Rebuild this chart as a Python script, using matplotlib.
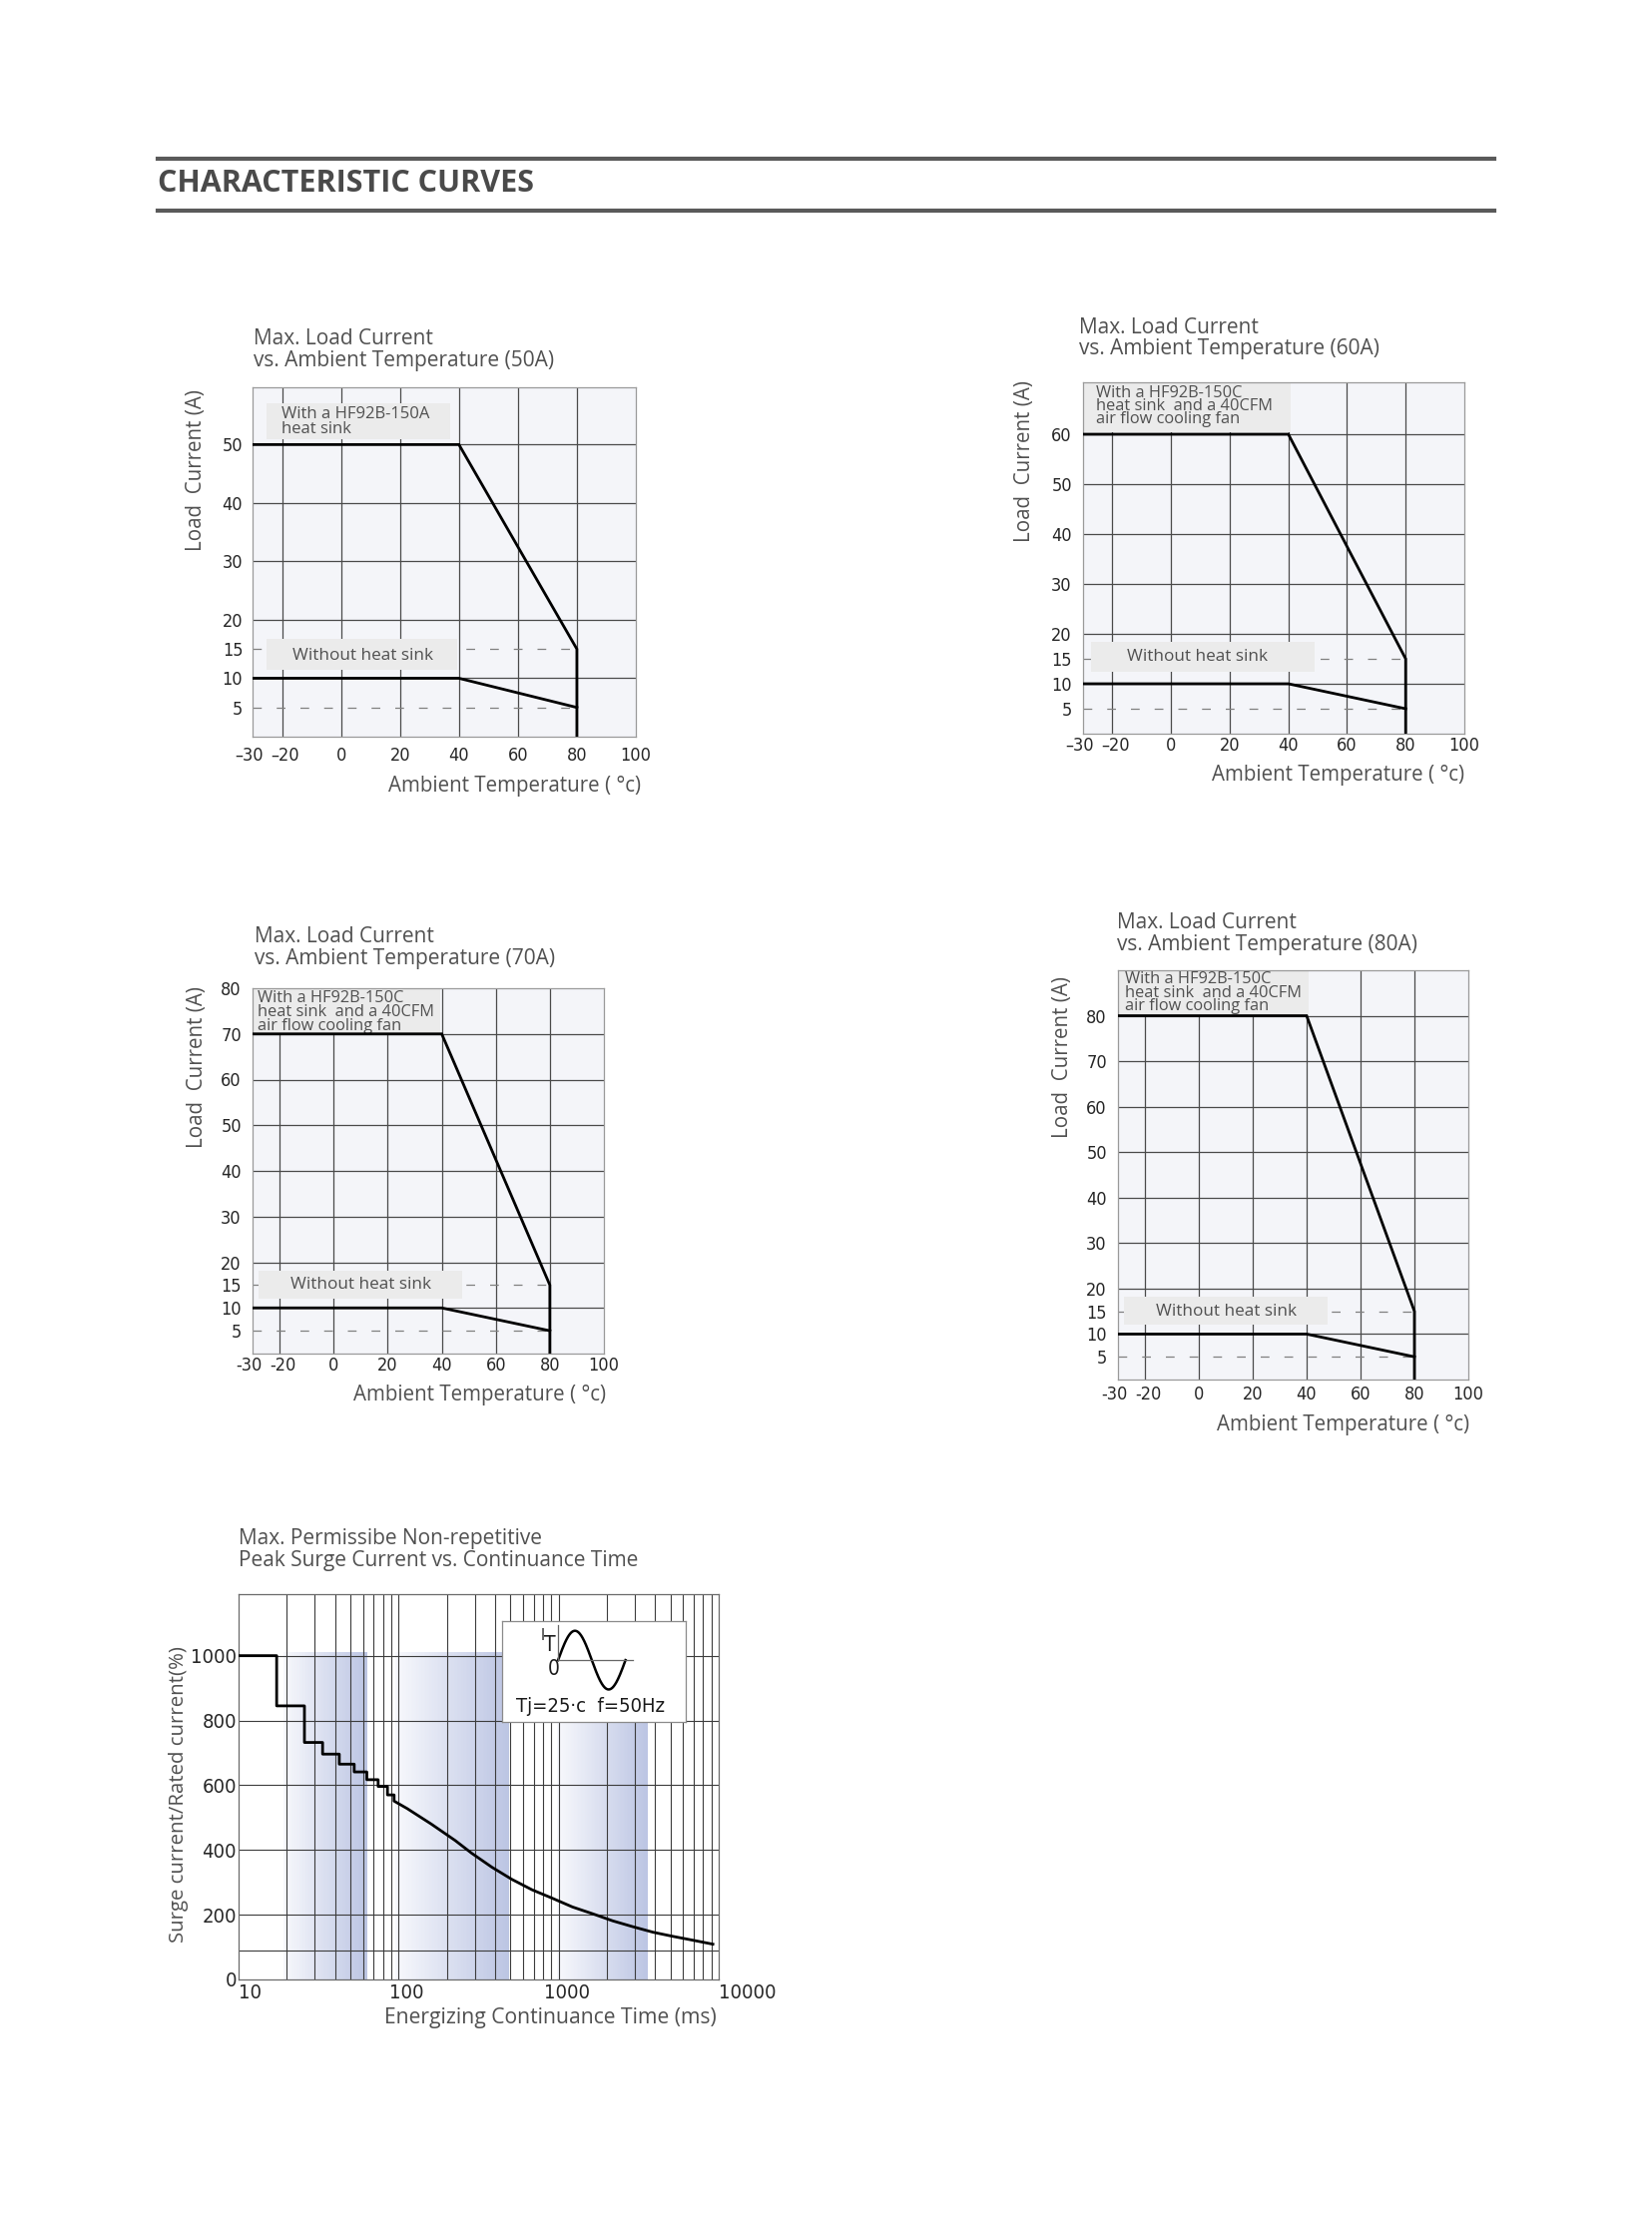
import os
import numpy as np
import matplotlib
matplotlib.use("Agg")
import matplotlib.pyplot as plt
from matplotlib import font_manager
from matplotlib.font_manager import FontProperties
from matplotlib.lines import Line2D
from matplotlib.patches import Rectangle
from matplotlib.colors import LinearSegmentedColormap
from matplotlib.ticker import NullLocator
from matplotlib.transforms import ScaledTranslation

W, H = 1656, 2244

# --- derating curves (ambient temperature vs. load current) ---
temp_pts = [-30, 40, 80, 80]
load_with_50a = [50, 50, 15, 0]
load_with_60a = [60, 60, 15, 0]
load_with_70a = [70, 70, 15, 0]
load_with_80a = [80, 80, 15, 0]
temp_pts_bare = [-30, 40, 80]
load_without = [10, 10, 5]
dashed_levels = [5, 15]
temp_ticks = [-30, -20, 0, 20, 40, 60, 80, 100]
temp_grid = [-20, 0, 20, 40, 60, 80]

# --- surge current vs. continuance time ---
step_time = [10, 17.3, 25.8, 33.5, 42.6, 52.8, 63.3, 74.5, 85.2, 93.7]
step_surge = [1000, 845, 732, 696, 665, 641, 617, 596, 570, 551]
curve_time = [93.7, 113, 160, 226, 286, 382, 511, 682, 912, 1219, 1630, 2178,
              2906, 3882, 5190, 6935, 9200]
curve_surge = [551, 528, 480, 429, 390, 347, 309, 277, 251, 224, 203, 181,
               163, 146, 133, 121, 109]
band_start = [19, 95, 980]
band_end = [64, 490, 3600]
band_top = 1010
surge_vgrid = [20, 30, 40, 50, 60, 70, 80, 90, 100, 200, 300, 400, 500, 600,
               700, 800, 900, 1000, 2000, 3000, 4000, 5000, 6000, 7000, 8000, 9000]
surge_hgrid = [90, 200, 400, 600, 800, 1000]
surge_yticks = [0, 200, 400, 600, 800, 1000]
time_ticks = [10, 100, 1000, 10000]

SANS = ["Open Sans", "DejaVu Sans"]
GRID = "#4a4a4a"
TXT = "#505050"

plt.rcParams["font.family"] = SANS


def narrow_font():
    # the chart numbers are set in a condensed face; take whichever is installed
    wanted = ["DejaVuSansCondensed.", "LiberationSansNarrow-Regular",
              "NotoSans-Condensed.", "RobotoCondensed-Regular"]
    files = [f.fname for f in font_manager.fontManager.ttflist]
    for w in wanted:
        for f in files:
            if w in os.path.basename(f):
                return FontProperties(fname=f)
    return FontProperties(family="Roboto")


NARROW = narrow_font()


def rect(l, t, r, b):
    return [l / W, 1 - b / H, (r - l) / W, (b - t) / H]


def fx(x):
    return x / W


def fy(y):
    return 1 - y / H


def narrow_labels(labels, size):
    for lbl in labels:
        lbl.set_fontproperties(NARROW)
        lbl.set_fontsize(size)


def shift_labels(labels, dxs):
    for lbl, dx in zip(labels, dxs):
        if dx:
            lbl.set_transform(lbl.get_transform()
                              + ScaledTranslation(dx / 72, 0, fig.dpi_scale_trans))


fig = plt.figure(figsize=(W / 100, H / 100), dpi=100)

# page header
for yl in (159, 211):
    fig.add_artist(Line2D([fx(158), fx(1497)], [fy(yl), fy(yl)], lw=3.0, color="#5a5a5a"))
fig.text(fx(158), fy(184), "CHARACTERISTIC CURVES", fontsize=22, weight="bold",
         color="#4a4a4a", ha="left", va="center")

charts = [
    dict(rect=(253, 388, 637, 738), title=(254, 339.5, 361), rating="50A",
         load=load_with_50a, ytop=59.8, yticks=[5, 10, 15, 20, 30, 40, 50],
         hgrid=[10, 20, 30, 40, 50],
         top_box=(-25.3, 50.9, 36.9, 57.1), top_lines=["With a HF92B-150A", "heat sink"],
         top_y=[55.2, 52.7], top_x=-20.2, top_fs=12,
         bare_box=(-25.3, 11.5, 39.5, 16.8), bare_xy=(7.3, 13.9),
         ylabel=(197, 471), xlabel=(642, 788), minus="\u2013", xpad=7, ypad=7),
    dict(rect=(1085, 383, 1467, 735), title=(1081, 328, 349.5), rating="60A",
         load=load_with_60a, ytop=70.4, yticks=[5, 10, 15, 20, 30, 40, 50, 60],
         hgrid=[10, 20, 30, 40, 50, 60],
         top_box=(-30, 60.5, 40.8, 70.4),
         top_lines=["With a HF92B-150C", "heat sink  and a 40CFM", "air flow cooling fan"],
         top_y=[68.3, 65.6, 62.9], top_x=-25.6, top_fs=11.8,
         bare_box=(-27.2, 12.5, 48.8, 18.5), bare_xy=(9.1, 15.5),
         ylabel=(1027, 462), xlabel=(1467, 777), minus="\u2013", xpad=2.5, ypad=8),
    dict(rect=(253, 990, 605, 1356), title=(255, 939, 960.5), rating="70A",
         load=load_with_70a, ytop=80, yticks=[5, 10, 15, 20, 30, 40, 50, 60, 70, 80],
         hgrid=[10, 20, 30, 40, 50, 60, 70],
         top_box=(-30, 70.1, 39.3, 80),
         top_lines=["With a HF92B-150C", "heat sink  and a 40CFM", "air flow cooling fan"],
         top_y=[77.8, 74.8, 71.75], top_x=-28.2, top_fs=11.8,
         bare_box=(-27.8, 12.1, 47.6, 18.1), bare_xy=(10.0, 15.0),
         ylabel=(198, 1069), xlabel=(607, 1397), minus="-", xpad=2, ypad=8),
    dict(rect=(1120, 972, 1471, 1382), title=(1119, 924, 946), rating="80A",
         load=load_with_80a, ytop=90, yticks=[5, 10, 15, 20, 30, 40, 50, 60, 70, 80],
         hgrid=[10, 20, 30, 40, 50, 60, 70, 80],
         top_box=(-30, 80.2, 40.7, 90),
         top_lines=["With a HF92B-150C", "heat sink  and a 40CFM", "air flow cooling fan"],
         top_y=[88.1, 85.0, 82.1], top_x=-27.3, top_fs=11.8,
         bare_box=(-27.6, 12.1, 47.9, 18.2), bare_xy=(10.2, 14.9),
         ylabel=(1065, 1059), xlabel=(1472, 1428), minus="-", xpad=4, ypad=8),
]

for c in charts:
    ax = fig.add_axes(rect(*c["rect"]))
    ax.set_facecolor("#f4f5f9")
    ax.set_xlim(-30, 100)
    ax.set_ylim(0, c["ytop"])
    for x in temp_grid:
        ax.axvline(x, color=GRID, lw=0.9, zorder=1)
    for y in c["hgrid"]:
        ax.axhline(y, color=GRID, lw=0.9, zorder=1)
    for y in dashed_levels:
        ax.plot([-30, 80], [y, y], color="#808080", lw=0.9, ls=(0, (7, 12)), zorder=1)
    x0, y0, x1, y1 = c["top_box"]
    ax.add_patch(Rectangle((x0, y0), x1 - x0, y1 - y0, facecolor="#ebebeb",
                           edgecolor="none", zorder=2))
    for line, yy in zip(c["top_lines"], c["top_y"]):
        ax.text(c["top_x"], yy, line, fontsize=c["top_fs"], color=TXT,
                ha="left", va="center", zorder=4)
    x0, y0, x1, y1 = c["bare_box"]
    ax.add_patch(Rectangle((x0, y0), x1 - x0, y1 - y0, facecolor="#ebebeb",
                           edgecolor="none", zorder=2))
    ax.text(*c["bare_xy"], "Without heat sink", fontsize=12.3, color=TXT,
            ha="center", va="center", zorder=4)
    ax.plot(temp_pts, c["load"], color="black", lw=2.0, zorder=5,
            solid_joinstyle="miter")
    ax.plot(temp_pts_bare, load_without, color="black", lw=2.0, zorder=5)
    ax.set_xticks(temp_ticks)
    ax.set_xticklabels([str(t).replace("-", c["minus"]) for t in temp_ticks])
    ax.set_yticks(c["yticks"])
    ax.set_yticklabels([str(v) for v in c["yticks"]])
    ax.tick_params(axis="x", length=0, pad=c["xpad"], colors="#262626")
    ax.tick_params(axis="y", length=0, pad=c["ypad"], colors="#262626")
    narrow_labels(ax.get_xticklabels() + ax.get_yticklabels(), 13)
    shift_labels(ax.get_xticklabels(), [-2.5, 2.5])
    for sp in ax.spines.values():
        sp.set_color("#9a9a9a")
        sp.set_linewidth(0.9)
    tx, t1, t2 = c["title"]
    fig.text(fx(tx), fy(t1), "Max. Load Current", fontsize=15, color=TXT, va="center")
    fig.text(fx(tx), fy(t2), f"vs. Ambient Temperature ({c['rating']})", fontsize=15,
             color=TXT, va="center")
    fig.text(fx(c["ylabel"][0]), fy(c["ylabel"][1]), "Load  Current (A)", fontsize=14.8,
             color=TXT, rotation=90, ha="center", va="center")
    fig.text(fx(c["xlabel"][0]), fy(c["xlabel"][1]), "Ambient Temperature ( \u00b0c)",
             fontsize=14.8, color=TXT, ha="right", va="center")

# --- surge chart ---
ax = fig.add_axes(rect(239, 1597, 720, 1983))
ax.set_xscale("log")
ax.set_xlim(10, 10000)
ax.set_ylim(0, 1190)
band_cmap = LinearSegmentedColormap.from_list("band", ["#f7f8fc", "#bcc5e3"])
for s, e in zip(band_start, band_end):
    xe = np.geomspace(s, e, 80)
    shade = np.linspace(0, 1, len(xe) - 1)[None, :]
    ax.pcolormesh(xe, [0, band_top], shade, cmap=band_cmap, shading="flat",
                  zorder=0, rasterized=True)
for x in surge_vgrid:
    ax.axvline(x, color="#3c3c3c", lw=0.8, zorder=1)
for y in surge_hgrid:
    ax.axhline(y, color="#3c3c3c", lw=0.8, zorder=1)

xs, ys = [], []
for i, (t, s) in enumerate(zip(step_time, step_surge)):
    if i:
        xs.append(t)
        ys.append(step_surge[i - 1])
    xs.append(t)
    ys.append(s)
xs += curve_time[1:]
ys += curve_surge[1:]
ax.plot(xs, ys, color="black", lw=2.0, zorder=5)

ax.xaxis.set_minor_locator(NullLocator())
ax.set_xticks(time_ticks)
ax.set_xticklabels([str(t) for t in time_ticks])
ax.set_yticks(surge_yticks)
ax.set_yticklabels([str(v) for v in surge_yticks])
ax.tick_params(axis="x", length=0, pad=3, colors="#262626")
ax.tick_params(axis="y", length=0, pad=1.5, colors="#262626")
narrow_labels(ax.get_xticklabels() + ax.get_yticklabels(), 14.5)
for lbl, ha in zip(ax.get_xticklabels(), ["left", "center", "center", "left"]):
    lbl.set_ha(ha)
shift_labels(ax.get_xticklabels(), [0, 6, 6, 0])
for sp in ax.spines.values():
    sp.set_color("#6a6a6a")
    sp.set_linewidth(0.9)

fig.text(fx(239), fy(1541), "Max. Permissibe Non-repetitive", fontsize=15, color=TXT,
         va="center")
fig.text(fx(239), fy(1564), "Peak Surge Current vs. Continuance Time", fontsize=15,
         color=TXT, va="center")
fig.text(fx(179), fy(1798), "Surge current/Rated current(%)", fontsize=14.7, color=TXT,
         rotation=90, ha="center", va="center")
fig.text(fx(718), fy(2021), "Energizing Continuance Time (ms)", fontsize=15.2, color=TXT,
         ha="right", va="center")

# inset with the half-wave sketch
ins = fig.add_axes(rect(503, 1624, 687, 1725))
ins.set_xlim(0, 1)
ins.set_ylim(0, 1)
ins.set_xticks([])
ins.set_yticks([])
ins.set_facecolor("white")
for sp in ins.spines.values():
    sp.set_color("#8a8a8a")
    sp.set_linewidth(0.9)
ox, oy, period, amp = 0.305, 0.613, 0.367, 0.291
ph = np.linspace(0, 1, 200)
ins.plot(ox + period * ph, oy + amp * np.sin(2 * np.pi * ph), color="black", lw=1.8)
ins.plot([ox, 0.711], [oy, oy], color="#666666", lw=0.9)
ins.plot([ox, ox], [oy, 0.963], color="#666666", lw=0.9)
for s, xy, fs in [("I", (0.222, 0.86), 11), ("T", (0.262, 0.76), 15),
                  ("0", (0.283, 0.52), 15), ("Tj=25\u00b7c  f=50Hz", (0.483, 0.15), 14.5)]:
    t = ins.text(*xy, s, ha="center", va="center", color="#1a1a1a")
    t.set_fontproperties(NARROW)
    t.set_fontsize(fs)

fig.savefig("out.png", dpi=100)
